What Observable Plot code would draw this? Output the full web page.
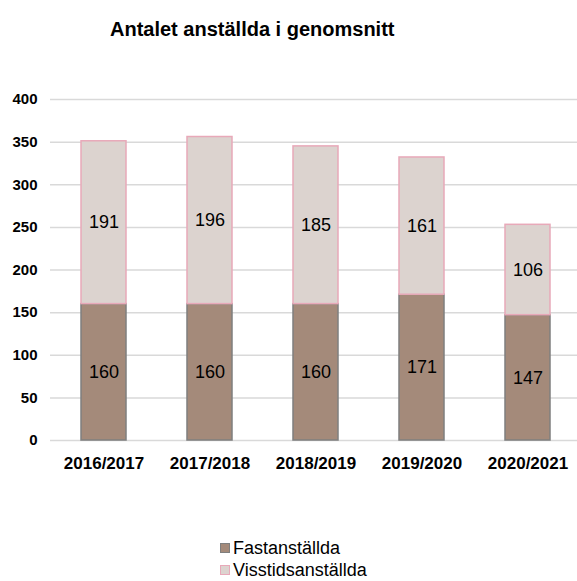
<!DOCTYPE html>
<html><head><meta charset="utf-8">
<script src="https://cdn.jsdelivr.net/npm/d3@7"></script>
<script src="https://cdn.jsdelivr.net/npm/@observablehq/plot@0.6"></script>
<style>
body{margin:0;font-family:"Liberation Sans",Arial,sans-serif;background:#fff;width:577px;height:581px;overflow:hidden;position:relative}
#title{position:absolute;left:0;top:17px;width:577px;text-align:left;padding-left:110px;box-sizing:border-box;font-weight:bold;font-size:20px;line-height:24px;color:#000}
#chart{position:absolute;left:0;top:50px}
#legend{position:absolute;left:220px;top:537px;font-size:18px;line-height:20px;color:#000}
.li{display:flex;align-items:center;height:22px}
.sw{width:10px;height:10px;margin-right:3px;box-sizing:border-box}
</style></head>
<body>
<div id="title">Antalet anställda i genomsnitt</div>
<div id="chart"></div>
<div id="legend"></div>
<script>
const years = ["2016/2017","2017/2018","2018/2019","2019/2020","2020/2021"];
const fast = [160,160,160,171,147];
const visst = [191,196,185,161,106];
const seriesNames = ["Fastanställda","Visstidsanställda"];
const fills = ["#a48a7a","#dcd3cf"];
const strokes = ["#7f7f7f","#e8a9b9"];
const yTicks = [0,50,100,150,200,250,300,350,400];

const data = [];
years.forEach((y,i)=>{
  data.push({year:y, series:seriesNames[0], value:fast[i]});
  data.push({year:y, series:seriesNames[1], value:visst[i]});
});
const fillOf = d => fills[seriesNames.indexOf(d.series)];
const strokeOf = d => strokes[seriesNames.indexOf(d.series)];

const chart = Plot.plot({
  width:577, height:480,
  marginLeft:50, marginRight:0, marginTop:49, marginBottom:90,
  style:{fontFamily:"'Liberation Sans', Arial, sans-serif", background:"transparent"},
  x:{domain:years, range:[49,582], paddingInner:0.58, paddingOuter:0.29, label:null},
  y:{domain:[0,400], label:null},
  color:{type:"identity"},
  marks:[
    Plot.ruleY(yTicks,{stroke:"#d9d9d9", strokeWidth:1.5}),
    Plot.barY(data, Plot.stackY({x:"year", y:"value", z:"series", fill:fillOf, stroke:strokeOf, strokeWidth:1.5, order:seriesNames})),
    Plot.text(data, Plot.stackY({x:"year", y:"value", z:"series", text:"value", order:seriesNames, fontSize:18, fill:"#000"})),
    Plot.axisY({ticks:yTicks, tickSize:0, tickPadding:13, fontSize:15, fontWeight:"bold", fill:"#000"}),
    Plot.axisX({tickSize:0, tickPadding:16, fontSize:17, fontWeight:"bold", fill:"#000"})
  ]
});
document.getElementById("chart").appendChild(chart);

const lg = document.getElementById("legend");
seriesNames.forEach((n,i)=>{
  const d = document.createElement("div"); d.className="li";
  const s = document.createElement("div"); s.className="sw";
  s.style.background=fills[i]; s.style.border="1px solid "+strokes[i];
  d.appendChild(s); d.appendChild(document.createTextNode(n)); lg.appendChild(d);
});
</script>
</body></html>
